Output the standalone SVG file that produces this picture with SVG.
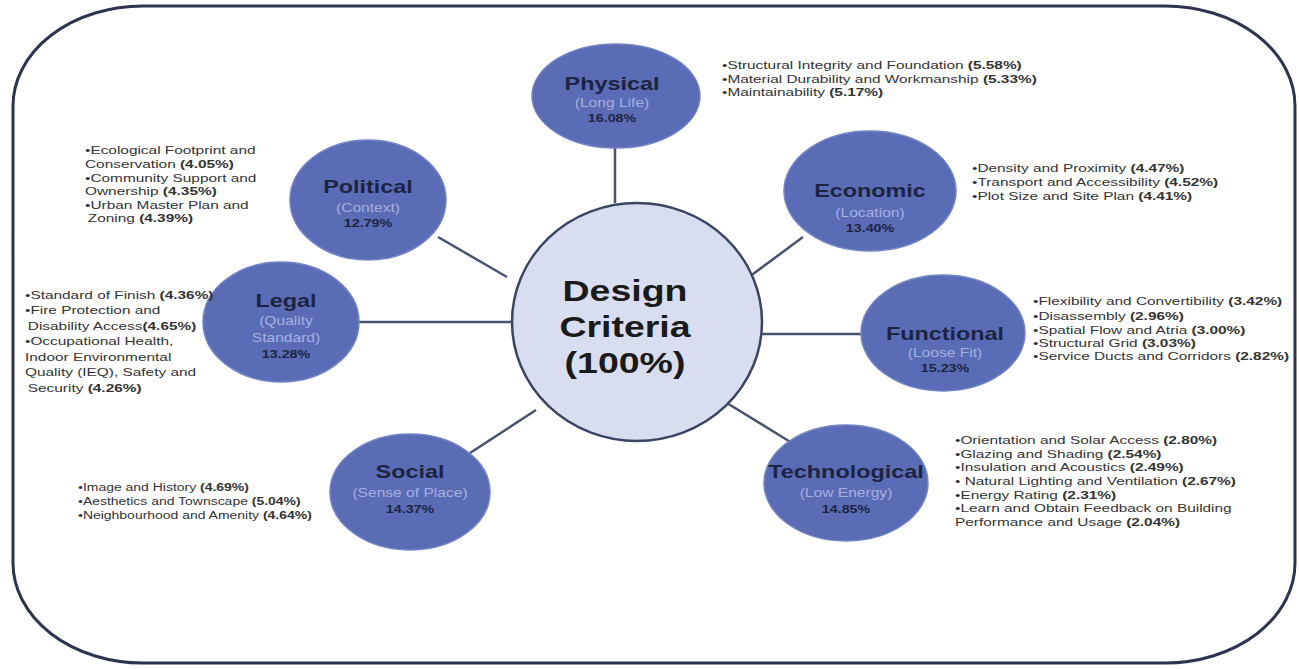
<svg xmlns="http://www.w3.org/2000/svg" width="1299" height="669" viewBox="0 0 1299 669">
<style>
.frame{fill:#ffffff;stroke:#2e3450;stroke-width:3}
.node{fill:#5a6cb6;stroke:#7384c6;stroke-width:1.5}
.hub{fill:#d8def0;stroke:#3b4563;stroke-width:2.5}
.conn line{stroke:#4a536e;stroke-width:2.5}
.t{font-family:"Liberation Sans",Arial,sans-serif;font-weight:bold;font-size:18px;fill:#1c2442;text-anchor:middle}
.s{font-family:"Liberation Sans",Arial,sans-serif;font-size:12px;fill:#a6afdf;text-anchor:middle}
.p{font-family:"Liberation Sans",Arial,sans-serif;font-weight:bold;font-size:11px;fill:#1c2442;text-anchor:middle}
.ht{font-family:"Liberation Sans",Arial,sans-serif;font-weight:bold;font-size:30px;fill:#1a1a1a;text-anchor:middle}
.li{font-family:"Liberation Sans",Arial,sans-serif;font-size:11px;fill:#333333}
.b{font-weight:bold}
</style>
<rect width="1299" height="669" fill="#ffffff"/>
<rect class="frame" x="13" y="6" width="1282" height="657" rx="130" ry="100"/>

<g id="connectors" class="conn">
<line x1="615" y1="148" x2="615" y2="203"/>
<line x1="438" y1="237" x2="507" y2="277"/>
<line x1="803" y1="237" x2="745" y2="280"/>
<line x1="359" y1="322" x2="512" y2="322"/>
<line x1="761" y1="334" x2="861" y2="334"/>
<line x1="470" y1="453" x2="536" y2="410"/>
<line x1="722" y1="400" x2="792" y2="443"/>
</g>

<g id="hub">
<ellipse class="hub" cx="637" cy="322" rx="125" ry="119"/>
<g transform="translate(625 0) scale(1.25 1)">
<text class="ht" x="0" y="301">Design</text>
<text class="ht" x="0" y="337">Criteria</text>
<text class="ht" x="0" y="373">(100%)</text>
</g>
</g>

<g id="physical">
<ellipse class="node" cx="616" cy="96" rx="84" ry="52"/>
<g transform="translate(612 0) scale(1.3 1)">
<text class="t" x="0" y="90">Physical</text>
<text class="s" x="0" y="107">(Long Life)</text>
<text class="p" x="0" y="122">16.08%</text>
</g>
<g transform="translate(722 0) scale(1.4 1)">
<text class="li" x="0" y="69">•Structural Integrity and Foundation <tspan class="b">(5.58%)</tspan></text>
<text class="li" x="0" y="83">•Material Durability and Workmanship <tspan class="b">(5.33%)</tspan></text>
<text class="li" x="0" y="96">•Maintainability <tspan class="b">(5.17%)</tspan></text>
</g>
</g>

<g id="political">
<ellipse class="node" cx="368" cy="200" rx="78" ry="60"/>
<g transform="translate(368 0) scale(1.3 1)">
<text class="t" x="0" y="193">Political</text>
<text class="s" x="0" y="212">(Context)</text>
<text class="p" x="0" y="227">12.79%</text>
</g>
<g transform="translate(85 0) scale(1.4 1)">
<text class="li" x="0" y="154">•Ecological Footprint and</text>
<text class="li" x="0" y="168">Conservation <tspan class="b">(4.05%)</tspan></text>
<text class="li" x="0" y="182">•Community Support and</text>
<text class="li" x="0" y="195">Ownership <tspan class="b">(4.35%)</tspan></text>
<text class="li" x="0" y="209">•Urban Master Plan and</text>
<text class="li" x="2" y="222">Zoning <tspan class="b">(4.39%)</tspan></text>
</g>
</g>

<g id="economic">
<ellipse class="node" cx="870" cy="191" rx="86" ry="60"/>
<g transform="translate(870 0) scale(1.3 1)">
<text class="t" x="0" y="197">Economic</text>
<text class="s" x="0" y="217">(Location)</text>
<text class="p" x="0" y="232">13.40%</text>
</g>
<g transform="translate(972 0) scale(1.4 1)">
<text class="li" x="0" y="172">•Density and Proximity <tspan class="b">(4.47%)</tspan></text>
<text class="li" x="0" y="186">•Transport and Accessibility <tspan class="b">(4.52%)</tspan></text>
<text class="li" x="0" y="200">•Plot Size and Site Plan <tspan class="b">(4.41%)</tspan></text>
</g>
</g>

<g id="legal">
<ellipse class="node" cx="281" cy="322" rx="78" ry="60"/>
<g transform="translate(286 0) scale(1.3 1)">
<text class="t" x="0" y="307">Legal</text>
<text class="s" x="0" y="325">(Quality</text>
<text class="s" x="0" y="342">Standard)</text>
<text class="p" x="0" y="358">13.28%</text>
</g>
<g transform="translate(25 0) scale(1.4 1)">
<text class="li" x="0" y="299">•Standard of Finish <tspan class="b">(4.36%)</tspan></text>
<text class="li" x="0" y="314">•Fire Protection and</text>
<text class="li" x="2" y="330">Disability Access<tspan class="b">(4.65%)</tspan></text>
<text class="li" x="0" y="345">•Occupational Health,</text>
<text class="li" x="0" y="361">Indoor Environmental</text>
<text class="li" x="0" y="376">Quality (IEQ), Safety and</text>
<text class="li" x="2" y="392">Security <tspan class="b">(4.26%)</tspan></text>
</g>
</g>

<g id="functional">
<ellipse class="node" cx="943" cy="333" rx="82" ry="58"/>
<g transform="translate(945 0) scale(1.3 1)">
<text class="t" x="0" y="340">Functional</text>
<text class="s" x="0" y="357">(Loose Fit)</text>
<text class="p" x="0" y="372">15.23%</text>
</g>
<g transform="translate(1033 0) scale(1.4 1)">
<text class="li" x="0" y="305">•Flexibility  and Convertibility <tspan class="b">(3.42%)</tspan></text>
<text class="li" x="0" y="320">•Disassembly <tspan class="b">(2.96%)</tspan></text>
<text class="li" x="0" y="334">•Spatial Flow and Atria <tspan class="b">(3.00%)</tspan></text>
<text class="li" x="0" y="347">•Structural Grid <tspan class="b">(3.03%)</tspan></text>
<text class="li" x="0" y="360">•Service Ducts and Corridors <tspan class="b">(2.82%)</tspan></text>
</g>
</g>

<g id="social">
<ellipse class="node" cx="410" cy="492" rx="80" ry="58"/>
<g transform="translate(410 0) scale(1.3 1)">
<text class="t" x="0" y="478">Social</text>
<text class="s" x="0" y="497">(Sense of Place)</text>
<text class="p" x="0" y="513">14.37%</text>
</g>
<g transform="translate(78 0) scale(1.27 1)">
<text class="li" x="0" y="491">•Image and History <tspan class="b">(4.69%)</tspan></text>
<text class="li" x="0" y="505">•Aesthetics and Townscape <tspan class="b">(5.04%)</tspan></text>
<text class="li" x="0" y="519">•Neighbourhood and Amenity <tspan class="b">(4.64%)</tspan></text>
</g>
</g>

<g id="technological">
<ellipse class="node" cx="846" cy="483" rx="82" ry="58"/>
<g transform="translate(846 0) scale(1.3 1)">
<text class="t" x="0" y="478">Technological</text>
<text class="s" x="0" y="497">(Low Energy)</text>
<text class="p" x="0" y="513">14.85%</text>
</g>
<g transform="translate(955 0) scale(1.4 1)">
<text class="li" x="0" y="444">•Orientation and Solar Access <tspan class="b">(2.80%)</tspan></text>
<text class="li" x="0" y="458">•Glazing and Shading <tspan class="b">(2.54%)</tspan></text>
<text class="li" x="0" y="471">•Insulation and Acoustics <tspan class="b">(2.49%)</tspan></text>
<text class="li" x="0" y="485">• Natural Lighting and Ventilation <tspan class="b">(2.67%)</tspan></text>
<text class="li" x="0" y="499">•Energy Rating <tspan class="b">(2.31%)</tspan></text>
<text class="li" x="0" y="512">•Learn and Obtain Feedback on Building</text>
<text class="li" x="0" y="526">Performance and Usage <tspan class="b">(2.04%)</tspan></text>
</g>
</g>
</svg>
